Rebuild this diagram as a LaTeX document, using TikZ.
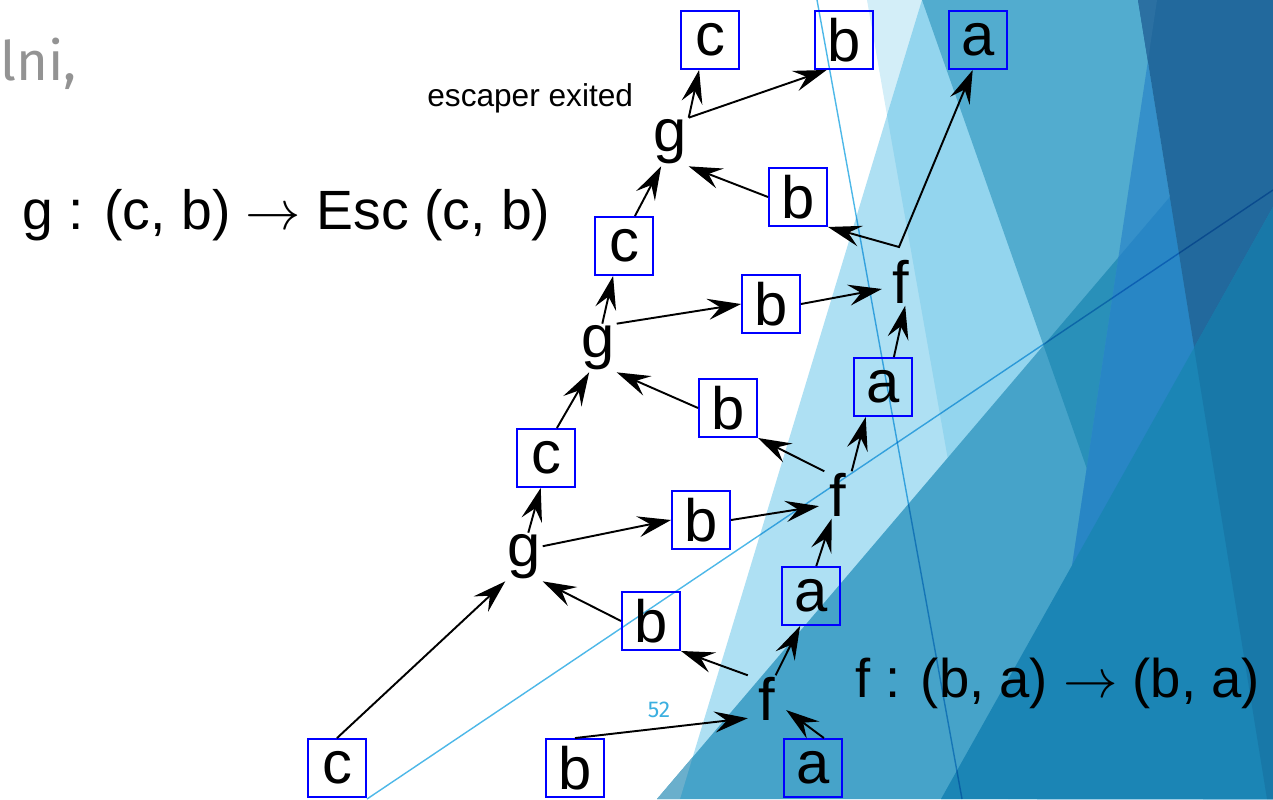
\RequirePackage{fix-cm}
\documentclass[tikz,border=0pt]{standalone}
\usepackage{fontspec}
\setmainfont{Liberation Sans}
\newfontfamily\slidefont{Fira Sans}
\usepackage{tikz}
\usetikzlibrary{arrows.meta}
\definecolor{BoxBlue}{RGB}{0,0,255}
\definecolor{FacetLightest}{RGB}{211,238,248}
\definecolor{FacetLight}{RGB}{174,224,243}
\definecolor{FacetSky}{RGB}{147,213,238}
\definecolor{FacetMid}{RGB}{82,172,207}
\definecolor{FacetTeal}{RGB}{70,163,201}
\definecolor{FacetPale}{RGB}{106,175,204}
\definecolor{FacetTealDark}{RGB}{41,144,185}
\definecolor{FacetBright}{RGB}{53,144,202}
\definecolor{FacetBrightLow}{RGB}{40,134,197}
\definecolor{FacetNavy}{RGB}{34,105,157}
\definecolor{FacetNavyLight}{RGB}{43,112,162}
\definecolor{FacetDeep}{RGB}{27,133,181}
\definecolor{FacetDeepest}{RGB}{24,120,168}
\definecolor{ThinLine}{RGB}{77,184,232}
\definecolor{PageNum}{RGB}{59,175,224}

\begin{document}
\begin{tikzpicture}[
    x=0.02cm, y=-0.02cm,
    sym/.style     = {rectangle, draw=BoxBlue, line width=1.1pt,
                      minimum size=1.16cm, inner sep=0pt,
                      font=\fontsize{34}{40}\selectfont},
    gfun/.style    = {inner xsep=1pt, inner ysep=1pt,
                      font=\fontsize{34}{40}\selectfont},
    ffun/.style    = {inner xsep=6pt, inner ysep=1pt,
                      font=\fontsize{34}{40}\selectfont},
    arr/.style     = {->, >={Stealth[length=19pt, width=12pt, inset=7pt]},
                      line width=1.1pt},
    formula/.style = {anchor=base west, inner sep=0pt,
                      font=\fontsize{31}{36}\selectfont},
    slideline/.style = {line width=0.8pt, ThinLine, blend mode=multiply},
]
\useasboundingbox (0,0) rectangle (1273,799);
\fill[white] (0,0) rectangle (1273,799);

% ─── Slide background facets ─────────────────────────────────────────────
\fill[FacetLight]     (922,0) -- (1273,0) -- (1273,799) -- (680,799) -- cycle;
\fill[FacetLightest]  (867,0) -- (922,0) -- (887,115) -- cycle;
\fill[FacetSky]       (922,0) -- (887,115) -- (1008,799) -- (1273,799) -- (1273,0) -- cycle;
\fill[FacetMid]       (922,0) -- (1203,799) -- (1273,799) -- (1273,0) -- cycle;
\fill[FacetTeal]      (657,799) -- (1273,76) -- (1273,799) -- cycle;
\fill[FacetPale]      (657,799) -- (692.6,757.2) -- (680,799) -- cycle;
\fill[FacetTealDark]  (1043.5,345.4) -- (1273,76) -- (1273,799) -- (1203,799) -- cycle;
\fill[FacetBright]    (1147.9,61) -- (1267,799) -- (1037,799) -- cycle;
\fill[FacetBrightLow] (1118.4,257.4) -- (1169.8,197) -- (1267,799) -- (1037,799) -- cycle;
\fill[FacetNavy]      (1138,0) -- (1273,0) -- (1273,799) -- (1267,799) -- cycle;
\fill[FacetNavyLight] (1138,0) -- (1157,0) -- (1147.9,61) -- cycle;
\fill[FacetDeep]      (1273,207) -- (1273,799) -- (941,799) -- cycle;
\fill[FacetDeepest]   (1194,347.5) -- (1273,207) -- (1273,799) -- (1267,799) -- cycle;
\draw[slideline] (817,0) -- (962,799);
\draw[slideline] (367,799) -- (1273,190);

% ─── Slide texts ─────────────────────────────────────────────────────────
\node[anchor=base west, inner sep=0pt, text=gray!85,
      font=\slidefont\fontsize{31}{36}\selectfont] (head) at (0,80) {lni,};
\node[formula, font=\fontsize{31.5}{36}\selectfont] (gsig) at (22,229)
    {g : (c, b) $\rightarrow$ Esc (c, b)};
\node[formula] (fsig) at (855,697) {f : (b, a) $\rightarrow$ (b, a)};
\node[anchor=base west, inner sep=0pt,
      font=\fontsize{18}{22}\selectfont] (note) at (427,106) {escaper exited};
\node[text=PageNum, font=\slidefont\fontsize{13}{15}\selectfont] (page) at (659,710) {52};

% ─── Inputs ──────────────────────────────────────────────────────────────
\node[sym] (cbot) at (337,768) {c};
\node[sym] (bbot) at (575,768) {b};
\node[sym] (abot) at (813,768) {a};

% ─── First round ─────────────────────────────────────────────────────────
\node[ffun] (f1) at (767,699) {f};
\node[sym]  (a1) at (811,596) {a};
\node[sym]  (b1) at (651,621) {b};
\node[gfun] (g1) at (524,557) {g};
\node[sym]  (b2) at (701,520) {b};
\node[sym]  (c1) at (546,458) {c};

\draw[arr] (bbot.north) -- (f1.-135);
\draw[arr] (abot.70) -- (f1.-30);
\draw[arr] (f1.70) -- (a1.-110);
\draw[arr] (f1.north west) -- (b1.south east);
\draw[arr] (cbot.north) -- (g1.south west);
\draw[arr] (b1.west) -- (g1.south east);
\draw[arr] (g1.30) -- (b2.west);
\draw[arr] (g1.80) -- (c1.-100);

% ─── Second round ────────────────────────────────────────────────────────
\node[ffun] (f2) at (838,495) {f};
\node[sym]  (a2) at (883,387) {a};
\node[sym]  (b3) at (728,408) {b};
\node[gfun] (g2) at (598,348) {g};
\node[sym]  (b4) at (771,304) {b};
\node[sym]  (c2) at (624,246) {c};

\draw[arr] (b2.east) -- (f2.-150);
\draw[arr] (a1.80) -- (f2.-105);
\draw[arr] (f2.60) -- (a2.-120);
\draw[arr] (f2.120) -- (b3.south east);
\draw[arr] (b3.west) -- (g2.south east);
\draw[arr] (c1.70) -- (g2.-110);
\draw[arr] (g2.north east) -- (b4.west);
\draw[arr] (g2.80) -- (c2.-110);

% ─── Third round ─────────────────────────────────────────────────────────
\node[ffun] (f3) at (901,282) {f};
\node[sym]  (b5) at (798,197) {b};
\node[gfun] (g3) at (670,142) {g};
\node[sym]  (ctop) at (710,40) {c};
\node[sym]  (btop) at (844,40) {b};
\node[sym]  (atop) at (978,40) {a};
\coordinate (fork) at (899,247);

\draw[arr] (b4.east) -- (f3.-160);
\draw[arr] (a2.70) -- (f3.-80);
\draw[arr, <->] (b5.south east) -- (fork) -- (atop.-100);
\draw[arr] (b5.west) -- (g3.south east);
\draw[arr] (c2.70) -- (g3.-110);
\draw[arr] (g3.north east) -- (ctop.-110);
\draw[arr] (g3.north east) -- (btop.-120);

\end{tikzpicture}
\end{document}
